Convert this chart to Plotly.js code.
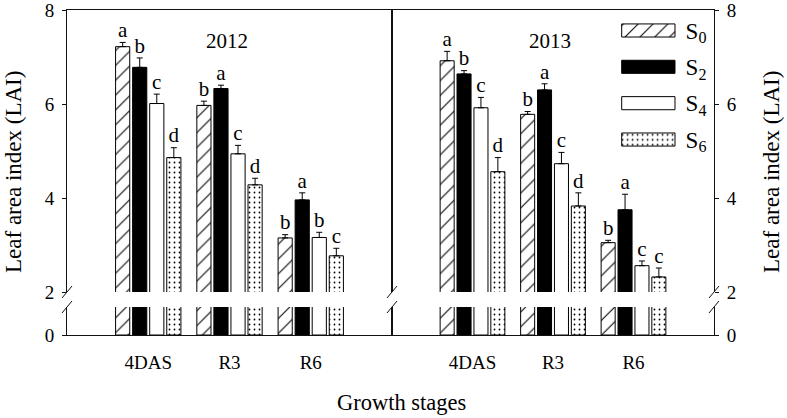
<!DOCTYPE html>
<html>
<head>
<meta charset="utf-8">
<script src="https://cdn.plot.ly/plotly-3.0.1.min.js"></script>
<style>html,body{margin:0;padding:0;background:#fff;}#chart{width:787px;height:418px;}</style>
</head>
<body>
<div id="chart"></div>
<script>
// ---- data ----
var stages = ['4DAS', 'R3', 'R6'];
var seriesNames = ['S0', 'S2', 'S4', 'S6'];
var seriesLabels = ['S<sub>0</sub>', 'S<sub>2</sub>', 'S<sub>4</sub>', 'S<sub>6</sub>'];
var years = ['2012', '2013'];

var s0_2012 = [7.22, 5.97, 3.15];
var s2_2012 = [6.78, 6.33, 3.96];
var s4_2012 = [6.01, 4.94, 3.16];
var s6_2012 = [4.86, 4.28, 2.77];
var e0_2012 = [0.09, 0.09, 0.07];
var e2_2012 = [0.20, 0.07, 0.15];
var e4_2012 = [0.20, 0.18, 0.11];
var e6_2012 = [0.21, 0.14, 0.16];
var l0_2012 = ['a', 'b', 'b'];
var l2_2012 = ['b', 'a', 'a'];
var l4_2012 = ['c', 'c', 'b'];
var l6_2012 = ['d', 'd', 'c'];

var s0_2013 = [6.92, 5.78, 3.05];
var s2_2013 = [6.64, 6.30, 3.75];
var s4_2013 = [5.92, 4.73, 2.56];
var s6_2013 = [4.56, 3.83, 2.32];
var e0_2013 = [0.20, 0.06, 0.05];
var e2_2013 = [0.07, 0.13, 0.33];
var e4_2013 = [0.22, 0.24, 0.10];
var e6_2013 = [0.30, 0.28, 0.19];
var l0_2013 = ['a', 'b', 'b'];
var l2_2013 = ['b', 'a', 'a'];
var l4_2013 = ['c', 'c', 'c'];
var l6_2013 = ['d', 'd', 'c'];

var legendValue = [1];

// ---- styles ----
var FONT = 'Liberation Serif, Times New Roman, serif';
var styles = [
  {color: 'white', pattern: {shape: '/', size: 10.5, solidity: 0.1, fgcolor: 'black', bgcolor: 'white', fillmode: 'replace'}},
  {color: 'black', pattern: {shape: ''}},
  {color: 'white', pattern: {shape: ''}},
  {color: 'white', pattern: {shape: '.', size: 5, solidity: 0.1, fgcolor: 'black', bgcolor: 'white', fillmode: 'replace'}}
];
var bargap = 0.16, bargroupgap = 0.17;
var slot = (1 - bargap) / seriesNames.length;

var panels = [
  {vals: [s0_2012, s2_2012, s4_2012, s6_2012], errs: [e0_2012, e2_2012, e4_2012, e6_2012], lets: [l0_2012, l2_2012, l4_2012, l6_2012], up: ['x', 'y'], low: ['x3', 'y3']},
  {vals: [s0_2013, s2_2013, s4_2013, s6_2013], errs: [e0_2013, e2_2013, e4_2013, e6_2013], lets: [l0_2013, l2_2013, l4_2013, l6_2013], up: ['x2', 'y2'], low: ['x4', 'y4']}
];

var xpos = stages.map(function (_, i) { return i; });
var traces = [];
panels.forEach(function (p) {
  p.vals.forEach(function (v, s) {
    var mk = {color: styles[s].color, pattern: styles[s].pattern, line: {color: 'black', width: 1}};
    traces.push({type: 'bar', x: xpos, y: v, name: seriesNames[s], xaxis: p.up[0], yaxis: p.up[1], showlegend: false,
      marker: mk, hoverinfo: 'skip',
      error_y: {type: 'data', symmetric: false, array: p.errs[s], arrayminus: v.map(function () { return 0; }), color: 'black', thickness: 1, width: 3}});
    traces.push({type: 'bar', x: xpos, y: v, name: seriesNames[s], xaxis: p.low[0], yaxis: p.low[1], showlegend: false,
      marker: mk, hoverinfo: 'skip'});
  });
  p.vals.forEach(function (v, s) {
    traces.push({type: 'scatter', mode: 'text', xaxis: p.up[0], yaxis: p.up[1], showlegend: false, hoverinfo: 'skip',
      x: xpos.map(function (i) { return i + (s - (seriesNames.length - 1) / 2) * slot; }),
      y: v.map(function (val, i) { return val + p.errs[s][i]; }),
      text: p.lets[s], textposition: 'top center', cliponaxis: false,
      textfont: {family: FONT, size: 21, color: 'black'}});
  });
});

// legend boxes (drawn as bars on their own small axis)
seriesNames.forEach(function (nm, s) {
  traces.push({type: 'bar', orientation: 'h', xaxis: 'x5', yaxis: 'y5', showlegend: false, hoverinfo: 'skip',
    y: [nm], x: legendValue, width: 0.36, offsetgroup: 'lg',
    marker: {color: styles[s].color, pattern: styles[s].pattern, line: {color: 'black', width: 1}}});
});

// ---- geometry ----
var L = 67, R = 73, T = 10, B = 83, W = 787, H = 418;
var pw = W - L - R, ph = H - T - B;
var xmid = (392 - L) / pw;
var upBottom = (H - B - 292) / ph;
var lowTop = (H - B - 307) / ph;
var pxPerUnit = 282 / 6;
var lowMax = 28 / pxPerUnit;

var lineCol = '#111';
function xUp(dom, anchor) {
  return {domain: dom, anchor: anchor, range: [-1, 3], side: 'top', showline: true, linecolor: lineCol, linewidth: 1,
    showticklabels: false, ticks: '', showgrid: false, zeroline: false, fixedrange: true};
}
function xLow(dom, anchor) {
  return {domain: dom, anchor: anchor, range: [-1, 3], showline: true, linecolor: lineCol, linewidth: 1,
    tickmode: 'array', tickvals: xpos, ticktext: stages, ticks: '', ticklabelstandoff: 10,
    tickfont: {family: FONT, size: 19, color: 'black'}, showgrid: false, zeroline: false, fixedrange: true};
}
function yAx(dom, anchor, range, vals, side) {
  return {domain: dom, anchor: anchor, range: range, side: side, showline: true, mirror: true, linecolor: lineCol, linewidth: 1,
    tickmode: 'array', tickvals: vals, ticks: 'outside', ticklen: 4, tickcolor: lineCol, ticklabelstandoff: 4,
    ticklabeloverflow: 'allow',
    tickfont: {family: FONT, size: 19, color: 'black'}, showgrid: false, zeroline: false, fixedrange: true};
}

// legend axis geometry
var lgX0 = (620.1 - L) / pw, lgX1 = (676.6 - L) / pw;
var lgY0 = (H - B - 157.7) / ph, lgY1 = (H - B - 12.3) / ph;
var lgOrder = seriesNames.slice().reverse();

function brk(xp, yp) {
  return {type: 'line', xref: 'paper', yref: 'paper', xsizemode: 'pixel', ysizemode: 'pixel',
    xanchor: xp, yanchor: yp, x0: -5, x1: 5, y0: -6, y1: 6, line: {color: lineCol, width: 1}};
}
var shapes = [];
[0, xmid, 1].forEach(function (xp) { shapes.push(brk(xp, upBottom)); shapes.push(brk(xp, lowTop)); });

function ann(text, px, py, size, angle) {
  return {text: text, xref: 'paper', yref: 'paper', x: (px - L) / pw, y: (H - B - py) / ph,
    xanchor: 'center', yanchor: 'middle', textangle: angle || 0, showarrow: false,
    font: {family: FONT, size: size, color: 'black'}};
}

var layout = {
  width: W, height: H, margin: {l: L, r: R, t: T, b: B, pad: 0},
  paper_bgcolor: 'white', plot_bgcolor: 'rgba(0,0,0,0)',
  font: {family: FONT, size: 19, color: 'black'},
  barmode: 'group', bargap: bargap, bargroupgap: bargroupgap, showlegend: false,
  xaxis: xUp([0, xmid], 'y'),
  xaxis2: xUp([xmid, 1], 'y2'),
  xaxis3: xLow([0, xmid], 'y3'),
  xaxis4: xLow([xmid, 1], 'y4'),
  yaxis: yAx([upBottom, 1], 'x', [2, 8], [2, 4, 6, 8], 'left'),
  yaxis2: yAx([upBottom, 1], 'x2', [2, 8], [2, 4, 6, 8], 'right'),
  yaxis3: yAx([0, lowTop], 'x3', [0, lowMax], [0], 'left'),
  yaxis4: yAx([0, lowTop], 'x4', [0, lowMax], [0], 'right'),
  xaxis5: {domain: [lgX0, lgX1], anchor: 'y5', range: [-0.03, 1.03], visible: false, fixedrange: true},
  yaxis5: {domain: [lgY0, lgY1], anchor: 'x5', side: 'right', type: 'category', categoryorder: 'array',
    categoryarray: lgOrder, range: [-0.5, 3.5],
    tickmode: 'array', tickvals: lgOrder,
    ticktext: lgOrder.map(function (nm) { return seriesLabels[seriesNames.indexOf(nm)]; }),
    ticks: '', showline: false, showgrid: false, zeroline: false, ticklabelstandoff: 8,
    tickfont: {family: FONT, size: 23, color: 'black'}, fixedrange: true},
  shapes: shapes,
  annotations: [
    ann(years[0], 227, 41, 21),
    ann(years[1], 550, 41, 21),
    ann('Leaf area index (LAI)', 13, 172, 23, -90),
    ann('Leaf area index (LAI)', 771, 172, 23, -90),
    ann('Growth stages', 401, 403, 22.5)
  ]
};

Plotly.newPlot('chart', traces, layout, {displayModeBar: false, staticPlot: true});
</script>
</body>
</html>
